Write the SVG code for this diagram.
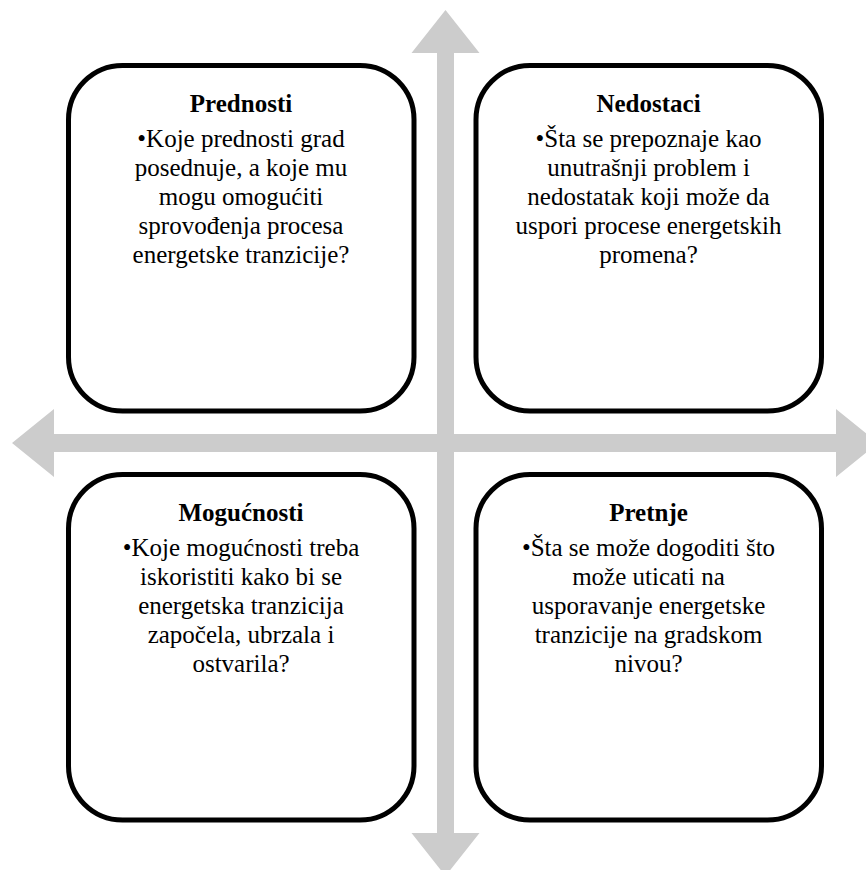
<svg xmlns="http://www.w3.org/2000/svg" width="866" height="870" viewBox="0 0 866 870">
<style>
.arrow{fill:#cccccc;stroke:none}
.box{fill:#ffffff;stroke:#000000;stroke-width:5}
.title{font-family:"Liberation Serif","Times New Roman",serif;font-weight:bold;font-size:25px;fill:#000;text-anchor:middle}
.body{font-family:"Liberation Serif","Times New Roman",serif;font-size:25px;fill:#000;text-anchor:middle}
</style>
<rect x="0" y="0" width="866" height="870" fill="#ffffff"/>
<g id="connectors">
<polygon class="arrow" points="445.5,10 479.5,53 454,53 454,833 479.5,833 445.5,876 411.5,833 437,833 437,53 411.5,53"/>
<polygon class="arrow" points="12,443 54,409 54,434 836,434 836,409 878,443 836,477 836,452 54,452 54,477"/>
</g>
<g id="prednosti">
<rect class="box" x="68.5" y="65.5" width="345.5" height="345.5" rx="54" ry="54"/>
<text class="title" x="241" y="112">Prednosti</text>
<text class="body" x="241" y="147">•Koje prednosti grad</text>
<text class="body" x="241" y="176">posednuje, a koje mu</text>
<text class="body" x="241" y="205">mogu omogućiti</text>
<text class="body" x="241" y="234">sprovođenja procesa</text>
<text class="body" x="241" y="263">energetske tranzicije?</text>
</g>
<g id="nedostaci">
<rect class="box" x="476" y="65.5" width="345.5" height="345.5" rx="54" ry="54"/>
<text class="title" x="648.5" y="112">Nedostaci</text>
<text class="body" x="648.5" y="147">•Šta se prepoznaje kao</text>
<text class="body" x="648.5" y="176">unutrašnji problem i</text>
<text class="body" x="648.5" y="205">nedostatak koji može da</text>
<text class="body" x="648.5" y="234">uspori procese energetskih</text>
<text class="body" x="648.5" y="263">promena?</text>
</g>
<g id="mogucnosti">
<rect class="box" x="68.5" y="474.5" width="345.5" height="345.5" rx="54" ry="54"/>
<text class="title" x="241" y="521">Mogućnosti</text>
<text class="body" x="241" y="556">•Koje mogućnosti treba</text>
<text class="body" x="241" y="585">iskoristiti kako bi se</text>
<text class="body" x="241" y="614">energetska tranzicija</text>
<text class="body" x="241" y="643">započela, ubrzala i</text>
<text class="body" x="241" y="672">ostvarila?</text>
</g>
<g id="pretnje">
<rect class="box" x="476" y="474.5" width="345.5" height="345.5" rx="54" ry="54"/>
<text class="title" x="648.5" y="521">Pretnje</text>
<text class="body" x="648.5" y="556">•Šta se može dogoditi što</text>
<text class="body" x="648.5" y="585">može uticati na</text>
<text class="body" x="648.5" y="614">usporavanje energetske</text>
<text class="body" x="648.5" y="643">tranzicije na gradskom</text>
<text class="body" x="648.5" y="672">nivou?</text>
</g>
</svg>
